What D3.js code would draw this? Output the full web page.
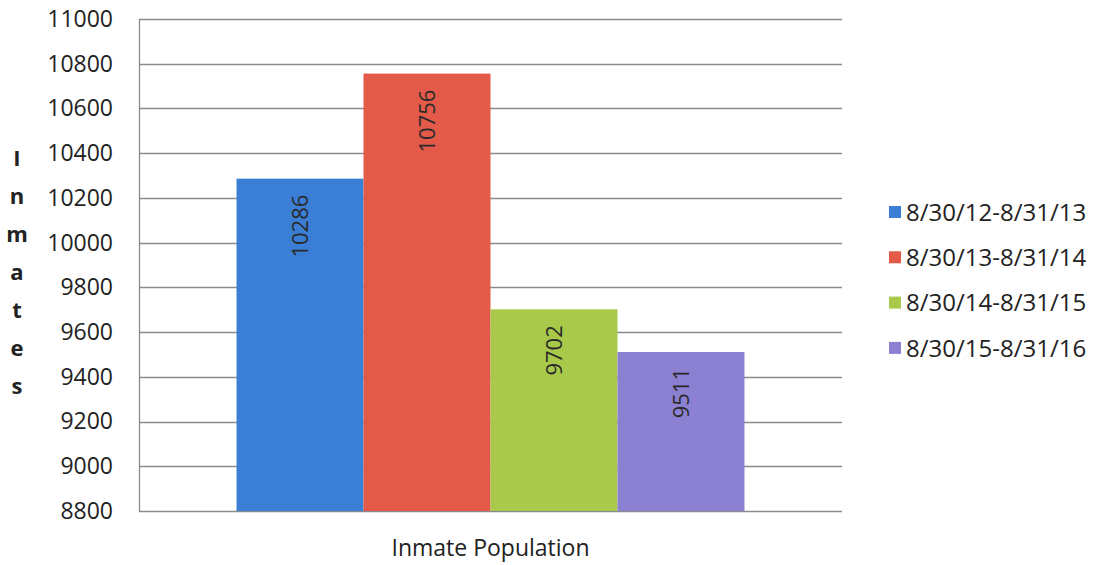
<!DOCTYPE html>
<html>
<head>
<meta charset="utf-8">
<script src="https://cdn.jsdelivr.net/npm/d3@7/dist/d3.min.js"></script>
<style>
  body { margin: 0; background: #fff; }
  text { font-family: "Open Sans", "Liberation Sans", sans-serif; }
</style>
</head>
<body>
<div id="chart"></div>
<script>
// data
var category = ['Inmate Population'];
var periods = ['8/30/12-8/31/13', '8/30/13-8/31/14', '8/30/14-8/31/15', '8/30/15-8/31/16'];
var inmates = [10286, 10756, 9702, 9511];
var yTicks = [8800, 9000, 9200, 9400, 9600, 9800, 10000, 10200, 10400, 10600, 10800, 11000];
var colors = ['#3b7ed6', '#e35a49', '#a8c94a', '#8c80d2'];

var svg = d3.select('#chart').append('svg')
    .attr('width', 1100)
    .attr('height', 565);

// plot box (note: "top" is reserved on window, so use other names)
var plotL = 139, plotR = 842, plotT = 19, plotB = 511;

var yScale = d3.scaleLinear()
    .domain([8800, 11000])
    .range([plotB, plotT]);

var x0 = d3.scaleBand()
    .domain(category)
    .range([plotL, plotR])
    .paddingInner(0)
    .paddingOuter(0.192);

var x1 = d3.scaleBand()
    .domain(periods)
    .range([0, x0.bandwidth()]);

// gridlines
svg.append('g').selectAll('line')
    .data(yTicks)
    .enter()
    .append('line')
    .attr('x1', plotL)
    .attr('x2', plotR)
    .attr('y1', function(d){ return Math.round(yScale(d)) + 0.5; })
    .attr('y2', function(d){ return Math.round(yScale(d)) + 0.5; })
    .attr('stroke', '#8a8a8a')
    .attr('stroke-width', 1.3);

// y axis
var yAxis = d3.axisLeft(yScale)
    .tickValues(yTicks)
    .tickSize(0)
    .tickPadding(26)
    .tickFormat(d3.format('d'));

var ya = svg.append('g')
    .attr('transform', 'translate(' + plotL + ',0)')
    .call(yAxis);
ya.select('.domain').attr('stroke', '#8a8a8a').attr('stroke-width', 1.3);
ya.selectAll('text')
    .attr('font-size', 23)
    .attr('fill', '#222')
    .style('font-family', '"Open Sans", sans-serif');

// bars
var g = svg.append('g')
    .attr('transform', 'translate(' + x0(category[0]) + ',0)');

g.selectAll('rect')
    .data(periods)
    .enter()
    .append('rect')
    .attr('x', function(d){ return x1(d); })
    .attr('y', function(d, i){ return yScale(inmates[i]); })
    .attr('width', x1.bandwidth())
    .attr('height', function(d, i){ return yScale(8800) - yScale(inmates[i]); })
    .attr('fill', function(d, i){ return colors[i]; });

// value labels, reading bottom to top, hung from the bar top
g.selectAll('text.val')
    .data(periods)
    .enter()
    .append('text')
    .attr('class', 'val')
    .attr('transform', function(d, i){
        return 'translate(' + (x1(d) + x1.bandwidth() / 2) + ',' + (yScale(inmates[i]) + 16) + ') rotate(-90)';
    })
    .attr('text-anchor', 'end')
    .attr('dy', '0.35em')
    .attr('font-size', 22)
    .attr('fill', '#2a2a2a')
    .text(function(d, i){ return inmates[i]; });

// x category label
svg.append('text')
    .attr('x', x0(category[0]) + x0.bandwidth() / 2)
    .attr('y', 556)
    .attr('text-anchor', 'middle')
    .attr('font-size', 23)
    .attr('fill', '#222')
    .text(category[0]);

// y title, one letter per line
var title = 'Inmates'.split('');
svg.append('g').selectAll('text')
    .data(title)
    .enter()
    .append('text')
    .attr('x', 17)
    .attr('y', function(d, i){ return 166 + i * 38; })
    .attr('text-anchor', 'middle')
    .attr('font-size', 22)
    .attr('font-weight', 'bold')
    .attr('fill', '#222')
    .text(function(d){ return d; });

// legend
var legend = svg.append('g').selectAll('g')
    .data(periods)
    .enter()
    .append('g')
    .attr('transform', function(d, i){ return 'translate(889,' + (212 + i * 45.3) + ')'; });

legend.append('rect')
    .attr('x', 0)
    .attr('y', -6)
    .attr('width', 12)
    .attr('height', 12)
    .attr('fill', function(d, i){ return colors[i]; });

legend.append('text')
    .attr('x', 17)
    .attr('dy', '0.36em')
    .attr('font-size', 24)
    .attr('fill', '#222')
    .text(function(d){ return d; });
</script>
</body>
</html>
